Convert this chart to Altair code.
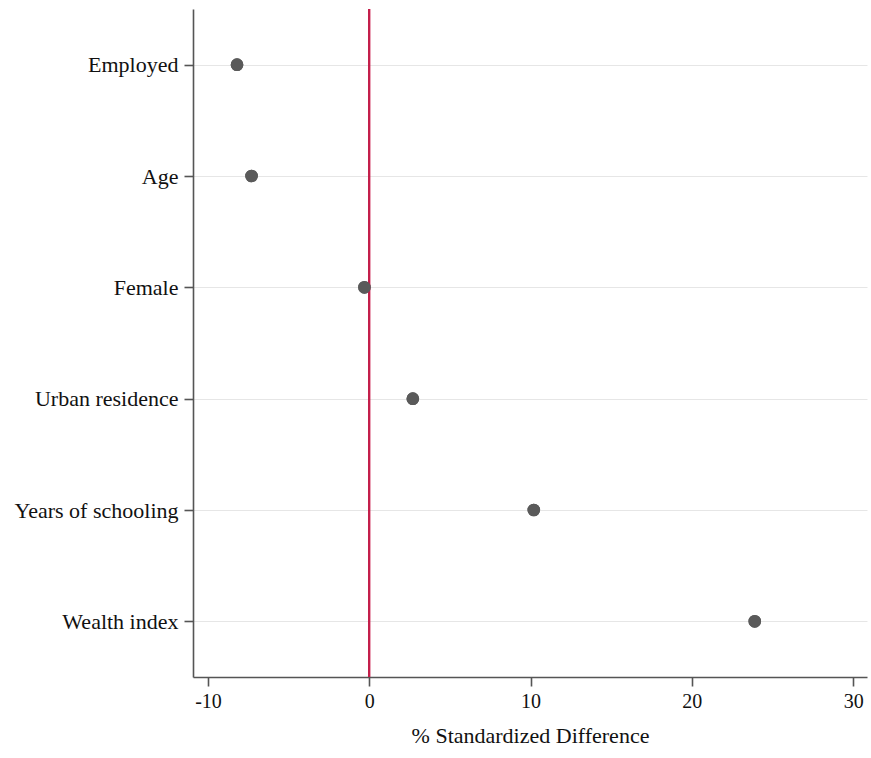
import altair as alt
import pandas as pd

# Covariates and their % standardized differences
covariates = ["Employed", "Age", "Female", "Urban residence", "Years of schooling", "Wealth index"]
std_diff = [-8.2, -7.3, -0.3, 2.7, 10.2, 23.9]
x_ticks = [-10, 0, 10, 20, 30]

df = pd.DataFrame({"covariate": covariates, "diff": std_diff})

FONT = "Liberation Serif"
TXT = "#111111"
AX = "#555555"

x_enc = alt.X(
    "diff:Q",
    title="% Standardized Difference",
    scale=alt.Scale(domain=[-10.93, 30.86], nice=False, zero=False),
    axis=alt.Axis(
        values=x_ticks, grid=False, tickSize=9, labelPadding=5,
        labelExpr="'' + datum.value",
        labelFontSize=20, titleFontSize=22, titlePadding=14,
        labelFont=FONT, titleFont=FONT, labelColor=TXT, titleColor=TXT,
        titleFontWeight="normal", domainColor=AX, tickColor=AX,
        domainWidth=1.6, tickWidth=1.6,
    ),
)
y_enc = alt.Y(
    "covariate:N",
    title=None,
    sort=covariates,
    scale=alt.Scale(type="point", padding=0.5),
    axis=alt.Axis(
        grid=True, gridColor="#e6e6e6", gridWidth=1, tickSize=9, labelPadding=6,
        labelFontSize=22, labelFont=FONT, labelColor=TXT,
        domainColor=AX, tickColor=AX, domainWidth=1.6, tickWidth=1.6,
        labelLimit=300,
    ),
)

zero_line = alt.Chart(df).mark_rule(color="#c41e4a", strokeWidth=1.6).encode(
    x=alt.datum(0)
)

points = alt.Chart(df).mark_circle(size=160, color="#5a5a5a", opacity=1).encode(
    x=x_enc, y=y_enc
)

chart = (
    alt.layer(points, zero_line, points)
    .properties(
        width=674,
        height=668,
        background="white",
        autosize=alt.AutoSizeParams(type="none"),
        padding={"left": 193, "top": 9, "right": 4, "bottom": 81},
    )
    .configure_view(stroke=None, strokeWidth=0)
)

chart.save("out.html", embed_options={"renderer": "svg", "actions": False})
